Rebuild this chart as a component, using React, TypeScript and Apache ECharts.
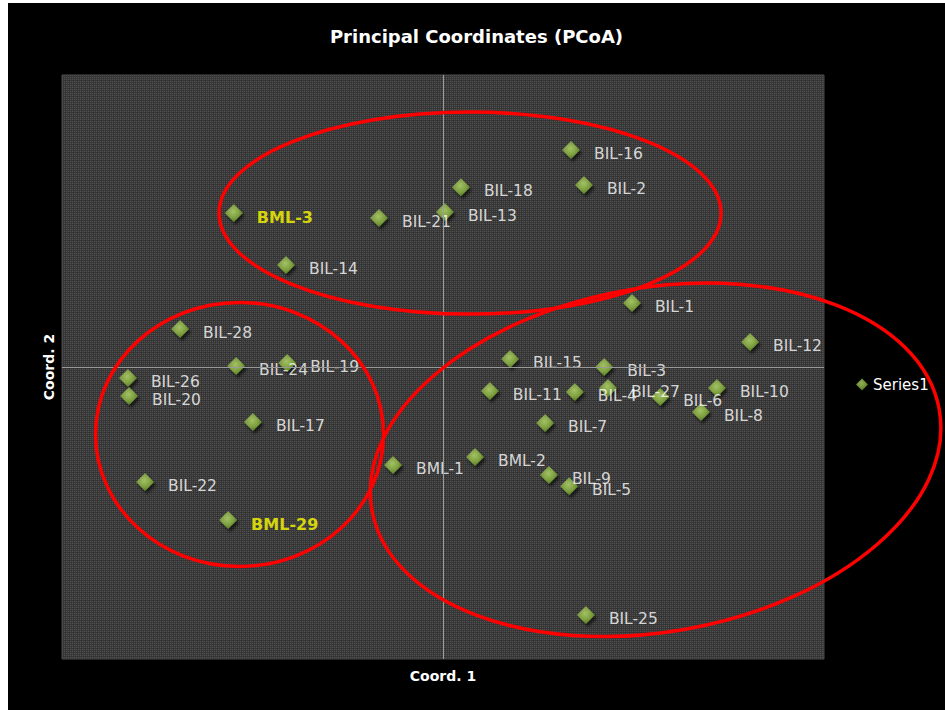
import React, { useEffect, useRef } from "react";
import * as echarts from "echarts";

const SAMPLE_NAMES = [
  "BIL-16", "BIL-2", "BIL-18", "BML-3", "BIL-21", "BIL-13", "BIL-14", "BIL-1",
  "BIL-12", "BIL-28", "BIL-24", "BIL-19", "BIL-26", "BIL-20", "BIL-15", "BIL-3",
  "BIL-11", "BIL-4", "BIL-27", "BIL-6", "BIL-10", "BIL-8", "BIL-7", "BIL-17",
  "BML-1", "BML-2", "BIL-9", "BIL-5", "BIL-22", "BML-29", "BIL-25",
];
const COORD1 = [
  0.336, 0.370, 0.047, -0.549, -0.168, 0.005, -0.412, 0.496,
  0.806, -0.690, -0.543, -0.409, -0.827, -0.824, 0.176, 0.423,
  0.123, 0.346, 0.433, 0.570, 0.719, 0.677, 0.268, -0.499,
  -0.131, 0.084, 0.278, 0.331, -0.782, -0.564, 0.375,
];
const COORD2 = [
  0.743, 0.623, 0.616, 0.527, 0.510, 0.531, 0.349, 0.219,
  0.086, 0.130, 0.003, 0.014, -0.038, -0.099, 0.027, 0.000,
  -0.082, -0.086, -0.072, -0.103, -0.072, -0.154, -0.192, -0.188,
  -0.336, -0.308, -0.370, -0.408, -0.394, -0.524, -0.849,
];
const HIGHLIGHTED = ["BML-3", "BML-29"];
const SERIES_NAME = "Series1";
const TITLE = "Principal Coordinates (PCoA)";
const X_NAME = "Coord. 1";
const Y_NAME = "Coord. 2";

// Group outlines (annotation): centre in data units, radii in pixels, rotation in degrees
const GROUP_OUTLINES = [
  { cx: 0.071, cy: 0.527, rx: 251, ry: 101, rot: 0 },
  { cx: -0.534, cy: -0.231, rx: 144, ry: 132, rot: 0 },
  { cx: 0.558, cy: -0.318, rx: 288, ry: 172, rot: 10 },
];

const FONT = "DejaVu Sans";

export default function App() {
  const ref = useRef<HTMLDivElement>(null);

  useEffect(() => {
    if (!ref.current) return;
    const chart = echarts.init(ref.current, null, { renderer: "svg" });

    const tile = document.createElement("canvas");
    tile.width = 4;
    tile.height = 4;
    const ctx = tile.getContext("2d");
    if (ctx) {
      ctx.fillStyle = "#373737";
      ctx.fillRect(0, 0, 4, 4);
      ctx.fillStyle = "#535353";
      ctx.fillRect(0, 0, 1, 1);
      ctx.fillRect(2, 0, 1, 1);
      ctx.fillRect(0, 2, 1, 1);
      ctx.fillRect(2, 2, 1, 1);
      ctx.fillStyle = "#2c2c2c";
      ctx.fillRect(1, 1, 1, 1);
    }

    const diamondColor = new echarts.graphic.RadialGradient(0.45, 0.4, 0.6, [
      { offset: 0, color: "#b9dc6e" },
      { offset: 0.6, color: "#8db446" },
      { offset: 1, color: "#5f8a25" },
    ]);

    const data = SAMPLE_NAMES.map((name, i) => {
      const hl = HIGHLIGHTED.includes(name);
      return {
        name,
        value: [COORD1[i], COORD2[i]],
        label: hl
          ? { color: "#ffff00", fontWeight: "bold", fontSize: 16 }
          : undefined,
      };
    });

    chart.setOption({
      animation: false,
      backgroundColor: "#000000",
      title: {
        text: TITLE,
        left: "center",
        top: 24,
        padding: 0,
        textStyle: {
          color: "#ffffff",
          fontFamily: FONT,
          fontWeight: "bold",
          fontSize: 18,
        },
      },
      legend: {
        data: [{ name: SERIES_NAME, icon: "diamond" }],
        left: 848,
        top: 374,
        padding: 0,
        itemWidth: 12,
        itemHeight: 12,
        textStyle: { color: "#ffffff", fontFamily: FONT, fontSize: 15 },
      },
      grid: {
        left: 54,
        top: 72,
        right: 121,
        bottom: 51,
        show: true,
        backgroundColor: {
          image: tile,
          repeat: "repeat",
          imageWidth: 4,
          imageHeight: 4,
        },
        borderColor: "#4a4a4a",
        borderWidth: 1,
      },
      xAxis: {
        type: "value",
        min: -1,
        max: 1,
        name: X_NAME,
        nameLocation: "middle",
        nameGap: 10,
        nameTextStyle: {
          color: "#ffffff",
          fontFamily: FONT,
          fontWeight: "bold",
          fontSize: 14,
        },
        axisLine: { show: false, onZero: false },
        axisTick: { show: false },
        axisLabel: { show: false },
        splitLine: { show: false },
      },
      yAxis: {
        type: "value",
        min: -1,
        max: 1,
        name: Y_NAME,
        nameLocation: "middle",
        nameRotate: 90,
        nameGap: 6,
        nameTextStyle: {
          color: "#ffffff",
          fontFamily: FONT,
          fontWeight: "bold",
          fontSize: 14,
        },
        axisLine: { show: false, onZero: false },
        axisTick: { show: false },
        axisLabel: { show: false },
        splitLine: { show: false },
      },
      series: [
        {
          name: SERIES_NAME,
          type: "scatter",
          symbol: "diamond",
          symbolSize: 18,
          data,
          itemStyle: {
            color: diamondColor,
            shadowColor: "rgba(0,0,0,0.75)",
            shadowBlur: 3,
            shadowOffsetX: 2,
            shadowOffsetY: 3,
          },
          label: {
            show: true,
            position: "right",
            distance: 14,
            offset: [0, 4],
            formatter: "{b}",
            color: "#ffffff",
            fontFamily: FONT,
            fontSize: 15.5,
          },
          emphasis: { disabled: true },
          markLine: {
            silent: true,
            symbol: "none",
            label: { show: false },
            lineStyle: { color: "#9a9a9a", width: 1, type: "solid" },
            data: [{ xAxis: 0 }, { yAxis: 0 }],
          },
          z: 3,
        },
      ],
    });

    const graphics = GROUP_OUTLINES.map((e) => {
      const p = chart.convertToPixel({ gridIndex: 0 }, [e.cx, e.cy]) as number[];
      return {
        type: "ellipse",
        x: p[0],
        y: p[1],
        rotation: (e.rot * Math.PI) / 180,
        shape: { cx: 0, cy: 0, rx: e.rx, ry: e.ry },
        style: { fill: "transparent", stroke: "#ff0000", lineWidth: 3.5 },
        silent: true,
        z: 100,
      };
    });
    chart.setOption({ graphic: graphics });

    return () => chart.dispose();
  }, []);

  return (
    <div
      ref={ref}
      style={{
        position: "absolute",
        left: 8,
        top: 3,
        width: 937,
        height: 707,
        background: "#000",
      }}
    />
  );
}
